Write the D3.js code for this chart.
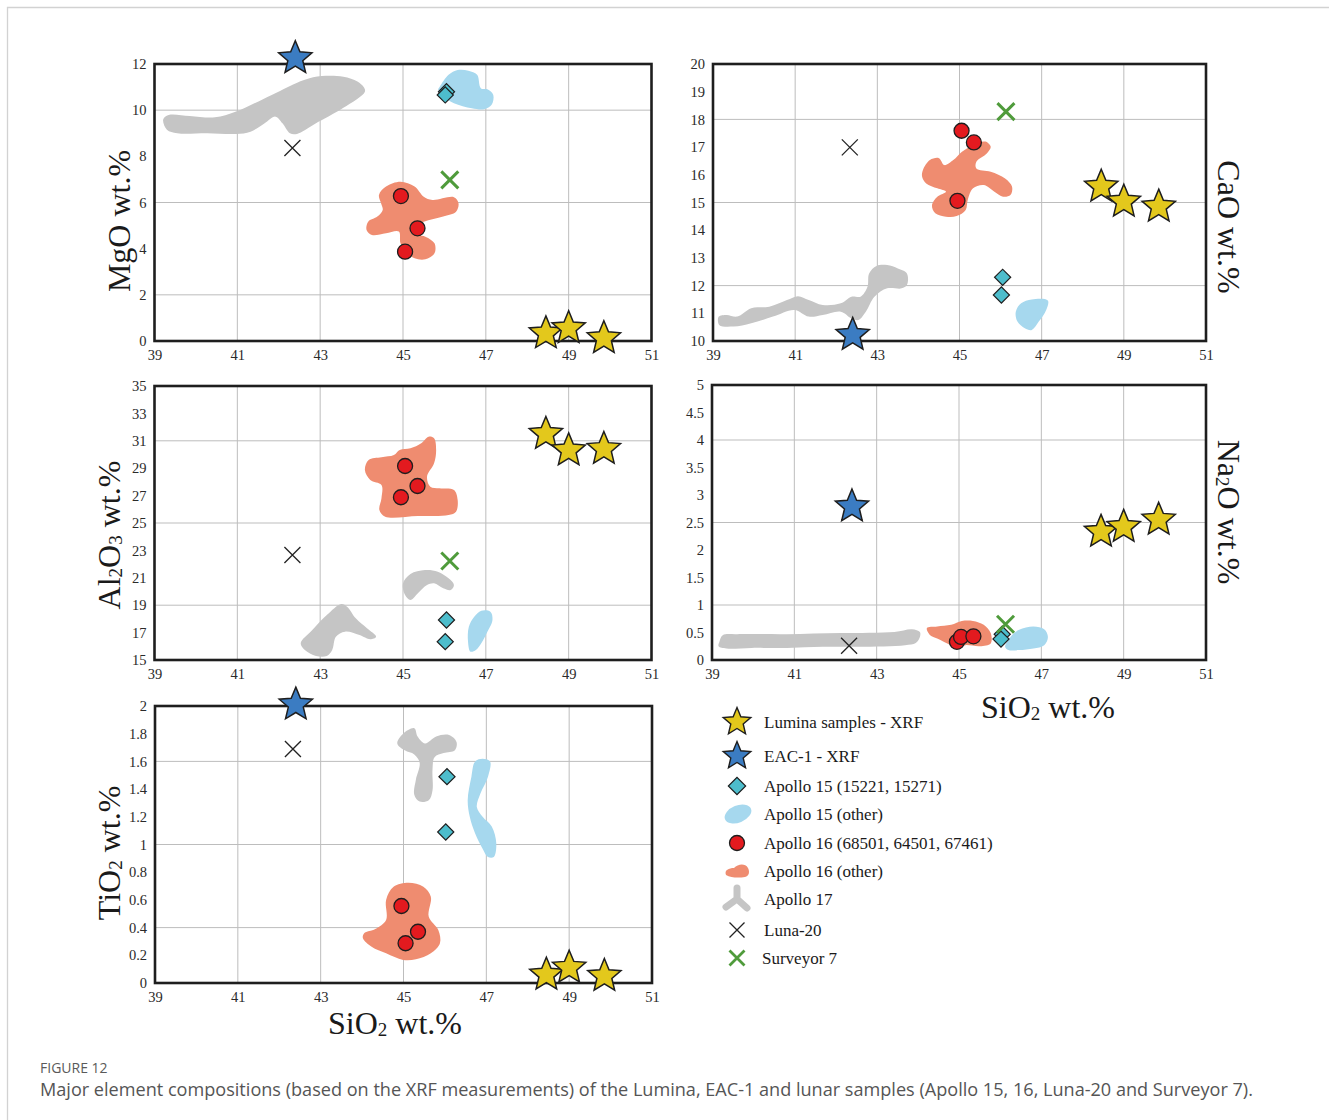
<!DOCTYPE html>
<html>
<head>
<meta charset="utf-8">
<script src="https://cdn.jsdelivr.net/npm/d3@7"></script>
<style>
  html, body { margin: 0; padding: 0; background: #fff; }
  svg { display: block; }
</style>
</head>
<body>
<svg id="fig" width="1329" height="1120"></svg>
<script>
// ---------- axis ticks ----------
const siO2Ticks = [39, 41, 43, 45, 47, 49, 51];
const siO2Grid = [41, 43, 45, 47, 49];
const mgoTicks = [0, 2, 4, 6, 8, 10, 12];
const mgoGrid = [2, 6, 10];
const caoTicks = [10, 11, 12, 13, 14, 15, 16, 17, 18, 19, 20];
const caoGrid = [12, 15, 18];
const al2o3Ticks = [15, 17, 19, 21, 23, 25, 27, 29, 31, 33, 35];
const al2o3Grid = [19, 25, 31];
const na2oTicks = [0, 0.5, 1, 1.5, 2, 2.5, 3, 3.5, 4, 4.5, 5];
const na2oGrid = [1, 2.5, 4];
const tio2Ticks = [0, 0.2, 0.4, 0.6, 0.8, 1, 1.2, 1.4, 1.6, 1.8, 2];
const tio2Grid = [0.4, 1, 1.6];

// ---------- Lumina samples (XRF), wt.% ----------
const luminaSiO2 = [48.45, 49.0, 49.85];
const luminaMgO = [0.33, 0.55, 0.12];
const luminaCaO = [15.57, 15.03, 14.85];
const luminaAl2O3 = [31.5, 30.3, 30.4];
const luminaNa2O = [2.33, 2.42, 2.55];
const luminaTiO2 = [0.06, 0.11, 0.05];

// ---------- EAC-1 (XRF) ----------
const eac1SiO2 = [42.4];
const eac1MgO = [12.25];
const eac1CaO = [10.22];
const eac1Al2O3 = [null];
const eac1Na2O = [2.79];
const eac1TiO2 = [2.01];

// ---------- Apollo 15 (15221, 15271) ----------
const apollo15SiO2 = [46.05, 46.02];
const apollo15MgO = [10.8, 10.66];
const apollo15CaO = [12.3, 11.66];
const apollo15Al2O3 = [17.92, 16.34];
const apollo15Na2O = [0.47, 0.38];
const apollo15TiO2 = [1.49, 1.09];

// ---------- Apollo 16 (68501, 64501, 67461) ----------
const apollo16SiO2 = [44.95, 45.05, 45.35];
const apollo16MgO = [6.28, 3.87, 4.88];
const apollo16CaO = [15.06, 17.59, 17.17];
const apollo16Al2O3 = [26.88, 29.16, 27.7];
const apollo16Na2O = [0.33, 0.42, 0.43];
const apollo16TiO2 = [0.556, 0.287, 0.37];

// ---------- Luna-20 ----------
const luna20SiO2 = [42.33];
const luna20MgO = [8.36];
const luna20CaO = [16.99];
const luna20Al2O3 = [22.66];
const luna20Na2O = [0.26];
const luna20TiO2 = [1.69];

// ---------- Surveyor 7 ----------
const surveyor7SiO2 = [46.13];
const surveyor7MgO = [6.98];
const surveyor7CaO = [18.28];
const surveyor7Al2O3 = [22.23];
const surveyor7Na2O = [0.65];
const surveyor7TiO2 = [null];

// ---------- compositional fields, outlines as [SiO2, oxide] ----------
const apollo17FieldMgO = [[[39.21,9.6],[39.3,9.15],[39.55,9.0],[40.28,9.0],[40.97,8.97],[41.32,9.07],[41.66,9.43],[41.92,9.72],[42.09,9.43],[42.27,9.0],[42.44,8.97],[42.87,9.4],[43.56,10.1],[44.08,10.8],[44.05,11.0],[43.9,11.24],[43.56,11.45],[43.04,11.48],[42.61,11.31],[41.83,10.66],[40.97,9.94],[40.46,9.69],[39.85,9.75],[39.34,9.79]]];
const apollo15FieldMgO = [[[45.89,11.02],[46.1,11.53],[46.32,11.74],[46.58,11.71],[46.79,11.53],[46.88,10.95],[47.05,10.9],[47.18,10.66],[47.14,10.23],[46.96,10.04],[46.66,10.08],[46.23,10.3],[45.98,10.58],[45.85,10.88]]];
const apollo16FieldMgO = [[[44.42,6.33],[44.59,6.69],[44.94,6.9],[45.28,6.69],[45.5,6.25],[45.71,6.11],[46.23,6.23],[46.34,5.97],[46.28,5.6],[45.97,5.39],[45.5,5.17],[45.2,4.95],[45.2,4.67],[45.54,4.52],[45.76,4.23],[45.76,3.8],[45.54,3.54],[45.28,3.58],[45.11,3.8],[44.94,4.23],[44.9,4.74],[44.59,4.67],[44.25,4.59],[44.12,4.81],[44.16,5.17],[44.38,5.39],[44.51,5.68],[44.47,5.97]]];

const apollo17FieldCaO = [[[39.15,10.58],[39.5,10.52],[39.93,10.64],[40.46,10.88],[40.98,11.12],[41.33,10.88],[41.67,10.94],[42.11,11.06],[42.37,10.82],[42.54,10.76],[42.72,11.06],[42.93,11.6],[43.24,11.9],[43.59,11.9],[43.72,12.02],[43.72,12.44],[43.5,12.62],[43.24,12.74],[42.98,12.71],[42.8,12.44],[42.76,11.96],[42.59,11.6],[42.37,11.6],[42.11,11.36],[41.67,11.3],[41.33,11.48],[41.07,11.62],[40.8,11.48],[40.37,11.24],[39.93,11.18],[39.59,10.88],[39.33,10.94],[39.14,10.88]]];
const apollo15FieldCaO = [[[46.37,11.06],[46.5,11.36],[46.76,11.5],[47.15,11.46],[47.11,11.12],[46.93,10.7],[46.76,10.4],[46.59,10.46],[46.41,10.7]]];
const apollo16FieldCaO = [[[44.11,16.17],[44.28,16.53],[44.5,16.6],[44.63,16.35],[44.85,16.53],[45.06,16.83],[45.33,17.08],[45.63,17.2],[45.76,17.01],[45.67,16.78],[45.41,16.47],[45.41,16.23],[45.76,16.11],[46.11,15.87],[46.28,15.57],[46.24,15.27],[46.06,15.21],[45.85,15.39],[45.59,15.63],[45.33,15.51],[45.2,15.09],[45.15,14.73],[44.93,14.51],[44.67,14.49],[44.41,14.61],[44.33,14.91],[44.46,15.21],[44.67,15.39],[44.46,15.51],[44.19,15.69],[44.09,15.93]]];

const apollo17FieldAl2O3 = [
  [[45.0,20.6],[45.18,21.28],[45.53,21.57],[45.84,21.45],[46.1,20.96],[46.23,20.47],[46.15,20.11],[45.97,20.23],[45.75,20.6],[45.58,20.47],[45.36,19.87],[45.18,19.38],[45.05,19.74]],
  [[42.53,16.22],[42.81,17.19],[43.16,18.28],[43.51,19.09],[43.65,18.89],[43.86,18.04],[44.13,17.31],[44.35,16.7],[44.21,16.51],[43.95,16.82],[43.6,17.07],[43.38,16.7],[43.29,15.73],[43.16,15.29],[42.9,15.29],[42.63,15.73]]
];
const apollo15FieldAl2O3 = [[[46.59,17.43],[46.72,18.16],[46.89,18.6],[47.11,18.53],[47.16,17.92],[47.02,16.95],[46.89,16.22],[46.76,15.73],[46.63,15.61],[46.57,16.34]]];
const apollo16FieldAl2O3 = [[[44.08,28.87],[44.17,29.6],[44.48,29.8],[44.78,29.96],[44.92,30.33],[45.18,30.45],[45.44,30.82],[45.62,31.3],[45.75,31.18],[45.8,30.33],[45.75,29.36],[45.58,28.38],[45.66,27.65],[45.88,27.53],[46.23,27.41],[46.32,26.68],[46.28,25.83],[46.1,25.58],[45.36,25.51],[44.57,25.46],[44.43,25.95],[44.48,26.8],[44.48,27.77],[44.21,28.14]]];

const apollo17FieldNa2O = [[[39.18,0.33],[39.26,0.45],[39.61,0.47],[40.82,0.47],[42.13,0.49],[43.43,0.51],[43.86,0.56],[44.05,0.51],[44.05,0.42],[43.95,0.31],[43.69,0.27],[42.56,0.24],[41.69,0.24],[40.82,0.22],[39.96,0.22],[39.35,0.21],[39.16,0.25]]];
const apollo15FieldNa2O = [[[46.12,0.24],[46.25,0.42],[46.46,0.55],[46.81,0.61],[47.07,0.56],[47.16,0.42],[47.07,0.27],[46.81,0.21],[46.46,0.18],[46.2,0.18]]];
const apollo16FieldNa2O = [[[44.22,0.58],[44.47,0.61],[44.81,0.64],[45.07,0.71],[45.34,0.71],[45.6,0.64],[45.77,0.49],[45.77,0.3],[45.51,0.25],[45.16,0.27],[44.99,0.24],[44.81,0.27],[44.47,0.39],[44.3,0.45]]];

const apollo17FieldTiO2 = [[[44.85,1.73],[44.99,1.8],[45.26,1.84],[45.34,1.78],[45.52,1.73],[45.79,1.78],[46.1,1.79],[46.28,1.74],[46.24,1.68],[45.97,1.66],[45.75,1.63],[45.7,1.54],[45.7,1.39],[45.61,1.32],[45.39,1.31],[45.26,1.36],[45.3,1.47],[45.39,1.59],[45.26,1.65],[45.03,1.68]]];
const apollo15FieldTiO2 = [[[46.64,1.49],[46.73,1.6],[46.91,1.62],[47.09,1.6],[47.04,1.49],[46.86,1.37],[46.77,1.27],[46.91,1.2],[47.13,1.13],[47.24,1.01],[47.18,0.91],[47.04,0.91],[46.91,0.97],[46.73,1.08],[46.6,1.2],[46.55,1.32]]];
const apollo16FieldTiO2 = [[[44.05,0.36],[44.32,0.39],[44.58,0.455],[44.58,0.6],[44.76,0.695],[45.12,0.724],[45.48,0.695],[45.66,0.623],[45.61,0.479],[45.84,0.383],[45.88,0.287],[45.66,0.214],[45.3,0.171],[44.99,0.166],[44.58,0.214],[44.23,0.262],[44.02,0.323]]];

// ---------- legend entries ----------
const legendLabels = [
  "Lumina samples - XRF", "EAC-1 - XRF", "Apollo 15 (15221, 15271)", "Apollo 15 (other)",
  "Apollo 16 (68501, 64501, 67461)", "Apollo 16 (other)", "Apollo 17", "Luna-20", "Surveyor 7"
];

// ---------- styles ----------
const C = {
  lumina: "#e3c81c", eac1: "#3b7cc2", a15pt: "#4dbdcc", a15f: "#a6d8ee",
  a16pt: "#e31a1f", a16f: "#ef8c70", a17f: "#c5c5c5", luna: "#222", surveyor: "#4f9b3b",
  ink: "#1e1e1e", grid: "#bdbdbd", tick: "#2a2a2a"
};
const SERIF = "'Liberation Serif', 'Times New Roman', serif";

const svg = d3.select("#fig");
svg.append("rect").attr("width", 1329).attr("height", 1120).attr("fill", "#fff");
svg.append("path").attr("d", "M7.5,1120 V7.5 H1329")
  .attr("fill", "none").attr("stroke", "#d2d2d2").attr("stroke-width", 1.3);

const panels = [
  { box: { l: 154.5, r: 651.5, t: 64, b: 341 }, domain: [0, 12], ticks: mgoTicks, grid: mgoGrid,
    fields: [apollo17FieldMgO, apollo16FieldMgO, apollo15FieldMgO],
    lumina: luminaMgO, eac1: eac1MgO, a15: apollo15MgO, a16: apollo16MgO, luna: luna20MgO, surv: surveyor7MgO },
  { box: { l: 713, r: 1206, t: 64, b: 341 }, domain: [10, 20], ticks: caoTicks, grid: caoGrid,
    fields: [apollo17FieldCaO, apollo16FieldCaO, apollo15FieldCaO],
    lumina: luminaCaO, eac1: eac1CaO, a15: apollo15CaO, a16: apollo16CaO, luna: luna20CaO, surv: surveyor7CaO },
  { box: { l: 154.5, r: 651.5, t: 386, b: 660 }, domain: [15, 35], ticks: al2o3Ticks, grid: al2o3Grid,
    fields: [apollo17FieldAl2O3, apollo16FieldAl2O3, apollo15FieldAl2O3],
    lumina: luminaAl2O3, eac1: eac1Al2O3, a15: apollo15Al2O3, a16: apollo16Al2O3, luna: luna20Al2O3, surv: surveyor7Al2O3 },
  { box: { l: 712, r: 1206, t: 385, b: 660 }, domain: [0, 5], ticks: na2oTicks, grid: na2oGrid,
    fields: [apollo17FieldNa2O, apollo16FieldNa2O, apollo15FieldNa2O],
    lumina: luminaNa2O, eac1: eac1Na2O, a15: apollo15Na2O, a16: apollo16Na2O, luna: luna20Na2O, surv: surveyor7Na2O },
  { box: { l: 155, r: 652, t: 706, b: 983 }, domain: [0, 2], ticks: tio2Ticks, grid: tio2Grid,
    fields: [apollo17FieldTiO2, apollo16FieldTiO2, apollo15FieldTiO2],
    lumina: luminaTiO2, eac1: eac1TiO2, a15: apollo15TiO2, a16: apollo16TiO2, luna: luna20TiO2, surv: surveyor7TiO2 }
];
const fieldColors = [C.a17f, C.a16f, C.a15f];

// ---------- marker shapes ----------
function starPath(R) {
  const r = R * 0.45;
  return d3.lineRadial().curve(d3.curveLinearClosed)(
    d3.range(10).map(i => [i * Math.PI / 5, i % 2 ? r : R]));
}
function crossPath(h) { return `M${-h},${-h}L${h},${h}M${-h},${h}L${h},${-h}`; }
const diamondPath = d3.symbol(d3.symbolSquare, 130)();

function pairs(xs, ys) {
  return xs.map((v, i) => [v, ys[i]]).filter(d => d[1] != null);
}

panels.forEach(p => {
  const x = d3.scaleLinear().domain([39, 51]).range([p.box.l, p.box.r]);
  const y = d3.scaleLinear().domain(p.domain).range([p.box.b, p.box.t]);
  const g = svg.append("g");

  // grid
  g.selectAll(".vg").data(siO2Grid).join("line")
    .attr("x1", d => x(d)).attr("x2", d => x(d)).attr("y1", p.box.t).attr("y2", p.box.b)
    .attr("stroke", C.grid).attr("stroke-width", 1);
  g.selectAll(".hg").data(p.grid).join("line")
    .attr("x1", p.box.l).attr("x2", p.box.r).attr("y1", d => y(d)).attr("y2", d => y(d))
    .attr("stroke", C.grid).attr("stroke-width", 1);

  // compositional fields
  const area = d3.line().x(d => x(d[0])).y(d => y(d[1])).curve(d3.curveCatmullRomClosed.alpha(0.5));
  p.fields.forEach((rings, k) => {
    g.selectAll(null).data(rings).join("path")
      .attr("d", area).attr("fill", fieldColors[k]);
  });

  // frame
  g.append("rect").attr("x", p.box.l).attr("y", p.box.t)
    .attr("width", p.box.r - p.box.l).attr("height", p.box.b - p.box.t)
    .attr("fill", "none").attr("stroke", C.ink).attr("stroke-width", 2.6);

  // axes (labels only)
  const ax = g.append("g").attr("transform", `translate(0,${p.box.b})`)
    .call(d3.axisBottom(x).tickValues(siO2Ticks).tickSize(0).tickPadding(9).tickFormat(d => String(d)));
  const ay = g.append("g").attr("transform", `translate(${p.box.l},0)`)
    .call(d3.axisLeft(y).tickValues(p.ticks).tickSize(0).tickPadding(8).tickFormat(d => String(d)));
  [ax, ay].forEach(a => {
    a.select(".domain").remove();
    a.selectAll("text").attr("font-family", SERIF).attr("font-size", 14.5).attr("fill", C.tick);
  });

  // Apollo 15 samples
  g.selectAll(null).data(pairs(apollo15SiO2, p.a15)).join("path")
    .attr("d", diamondPath)
    .attr("transform", d => `translate(${x(d[0])},${y(d[1])}) rotate(45)`)
    .attr("fill", C.a15pt).attr("stroke", C.ink).attr("stroke-width", 1.2);
  // Apollo 16 samples
  g.selectAll(null).data(pairs(apollo16SiO2, p.a16)).join("circle")
    .attr("cx", d => x(d[0])).attr("cy", d => y(d[1])).attr("r", 7.5)
    .attr("fill", C.a16pt).attr("stroke", C.ink).attr("stroke-width", 1.3);
  // Luna-20
  g.selectAll(null).data(pairs(luna20SiO2, p.luna)).join("path")
    .attr("d", crossPath(8)).attr("transform", d => `translate(${x(d[0])},${y(d[1])})`)
    .attr("fill", "none").attr("stroke", C.luna).attr("stroke-width", 1.3);
  // Surveyor 7
  g.selectAll(null).data(pairs(surveyor7SiO2, p.surv)).join("path")
    .attr("d", crossPath(8.5)).attr("transform", d => `translate(${x(d[0])},${y(d[1])})`)
    .attr("fill", "none").attr("stroke", C.surveyor).attr("stroke-width", 3);
  // EAC-1
  g.selectAll(null).data(pairs(eac1SiO2, p.eac1)).join("path")
    .attr("d", starPath(17.5)).attr("transform", d => `translate(${x(d[0])},${y(d[1])})`)
    .attr("fill", C.eac1).attr("stroke", C.ink).attr("stroke-width", 1.5).attr("stroke-linejoin", "miter");
  // Lumina samples
  g.selectAll(null).data(pairs(luminaSiO2, p.lumina)).join("path")
    .attr("d", starPath(17.5)).attr("transform", d => `translate(${x(d[0])},${y(d[1])})`)
    .attr("fill", C.lumina).attr("stroke", C.ink).attr("stroke-width", 1.5).attr("stroke-linejoin", "miter");
});

// ---------- axis titles ----------
function title(tx, ty, rot, parts) {
  const t = svg.append("text")
    .attr("transform", `translate(${tx},${ty}) rotate(${rot})`)
    .attr("text-anchor", "middle").attr("font-family", SERIF)
    .attr("font-size", 32).attr("fill", "#1a1a1a");
  parts.forEach(s => {
    if (s.startsWith("_")) {
      t.append("tspan").attr("font-size", 19).attr("dy", 2).text(s.slice(1));
    } else {
      const sp = t.append("tspan").text(s);
      if (t.selectAll("tspan").size() > 1) sp.attr("dy", -2);
    }
  });
}
title(130, 221, -90, ["MgO wt.%"]);
title(1218, 227, 90, ["CaO wt.%"]);
title(120, 535, -90, ["Al", "_2", "O", "_3", " wt.%"]);
title(1218, 512, 90, ["Na", "_2", "O wt.%"]);
title(120, 853, -90, ["TiO", "_2", " wt.%"]);
title(1048, 718, 0, ["SiO", "_2", " wt.%"]);
title(395, 1034, 0, ["SiO", "_2", " wt.%"]);

// ---------- legend ----------
const legendY = [722, 756, 786, 814, 843, 871, 899, 930, 958];
const lg = svg.append("g");
const sx = 737;
function at(i) { return `translate(${sx},${legendY[i]})`; }
lg.append("path").attr("d", starPath(14.5)).attr("transform", at(0))
  .attr("fill", C.lumina).attr("stroke", C.ink).attr("stroke-width", 1.4);
lg.append("path").attr("d", starPath(14.5)).attr("transform", at(1))
  .attr("fill", C.eac1).attr("stroke", C.ink).attr("stroke-width", 1.4);
lg.append("path").attr("d", d3.symbol(d3.symbolSquare, 150)()).attr("transform", at(2) + " rotate(45)")
  .attr("fill", C.a15pt).attr("stroke", C.ink).attr("stroke-width", 1.2);
lg.append("ellipse").attr("rx", 14).attr("ry", 8.5).attr("transform", at(3) + " translate(1,0) rotate(-22)")
  .attr("fill", C.a15f);
lg.append("circle").attr("r", 7.5).attr("transform", at(4))
  .attr("fill", C.a16pt).attr("stroke", C.ink).attr("stroke-width", 1.3);
lg.append("path").attr("transform", at(5))
  .attr("d", "M-11,4 C-13,-1 -8,-3 -3,-3 C1,-7 8,-8 11,-3 C13,1 12,5 8,6 C2,7 -6,7 -11,4 Z")
  .attr("fill", C.a16f);
lg.append("path").attr("transform", at(6))
  .attr("d", "M0,-11 L0,0 M0,0 L-11,8 M0,0 L10,9")
  .attr("fill", "none").attr("stroke", C.a17f).attr("stroke-width", 7).attr("stroke-linecap", "round");
lg.append("path").attr("d", crossPath(7.5)).attr("transform", at(7))
  .attr("fill", "none").attr("stroke", C.luna).attr("stroke-width", 1.3);
lg.append("path").attr("d", crossPath(7.5)).attr("transform", at(8))
  .attr("fill", "none").attr("stroke", C.surveyor).attr("stroke-width", 2.8);
lg.selectAll(".lt").data(legendLabels).join("text")
  .attr("x", (d, i) => i === 8 ? 762 : 764).attr("y", (d, i) => legendY[i])
  .attr("dy", "0.33em").attr("font-family", SERIF).attr("font-size", 17).attr("fill", "#1a1a1a")
  .text(d => d);

// ---------- caption ----------
svg.append("text").attr("x", 40).attr("y", 1073)
  .attr("font-family", "'Open Sans', sans-serif").attr("font-size", 14).attr("fill", "#5a5a5a")
  .text("FIGURE 12");
svg.append("text").attr("x", 40).attr("y", 1096)
  .attr("font-family", "'Open Sans', sans-serif").attr("font-size", 18.1).attr("fill", "#555")
  .text("Major element compositions (based on the XRF measurements) of the Lumina, EAC-1 and lunar samples (Apollo 15, 16, Luna-20 and Surveyor 7).");
</script>
</body>
</html>
